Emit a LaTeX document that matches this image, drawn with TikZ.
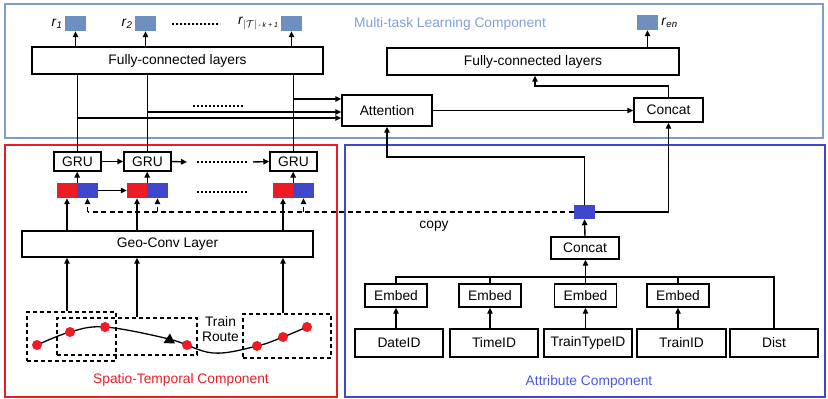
\documentclass[tikz,border=0pt]{standalone}
\usepackage{fontspec}
\setmainfont{Liberation Sans}
\usetikzlibrary{arrows.meta,calc}
\definecolor{stred}{HTML}{ED1C24}
\definecolor{atblue}{HTML}{3F48CC}
\definecolor{attext}{HTML}{4A58E0}
\definecolor{mtframe}{HTML}{7F9DC9}
\definecolor{mtfill}{HTML}{6E8FC0}
\definecolor{mttext}{HTML}{7FA0D8}
\begin{document}
\begin{tikzpicture}[x=1pt,y=-1pt,
  font=\fontsize{13.8}{16}\selectfont,
  box/.style={draw, line width=1.4pt, inner sep=0pt, fill=white},
  outsq/.style={fill=mtfill, inner sep=0pt, minimum width=21pt, minimum height=15pt},
  redv/.style={fill=stred, inner sep=0pt, minimum width=20pt, minimum height=15pt},
  bluev/.style={fill=atblue, inner sep=0pt, minimum width=21pt, minimum height=15pt},
  routebox/.style={draw, line width=1.1pt, dash pattern=on 4pt off 3pt, inner sep=0pt},
  arr/.style={-{Triangle[length=6pt,width=5.5pt]}, line width=1.4pt},
  ln/.style={line width=1.4pt},
  dashln/.style={line width=1.3pt, dash pattern=on 5pt off 3.5pt},
  dots/.style={line width=1.1pt, dash pattern=on 2pt off 2pt},
  stop/.style={circle, fill=stred, inner sep=0pt, minimum size=10pt}]
\useasboundingbox (0,0) rectangle (828,399);

% component frames
\draw[mtframe, line width=2.2pt] (5,4) rectangle (823,138);
\draw[stred, line width=2.2pt] (5,145) rectangle (337,397);
\draw[atblue, line width=2.2pt] (345,145) rectangle (825,397);
\node[text=mttext] (mtlabel) at (450,24) {Multi-task Learning Component};
\node[text=stred] (stlabel) at (181,380) {Spatio-Temporal Component};
\node[text=attext] (atlabel) at (589,382) {Attribute Component};

% multi-task outputs
\node[box, minimum width=291pt, minimum height=27pt] (fc1) at (177.5,60.5) {Fully-connected layers};
\node[box, minimum width=292pt, minimum height=27pt] (fc2) at (533,61.5) {Fully-connected layers};
\node[box, minimum width=90pt, minimum height=31pt] (att) at (387,110.5) {Attention};
\node[box, minimum width=69pt, minimum height=24pt] (cat1) at (668.5,110) {Concat};
\node[outsq] (r1) at (75.5,23.5) {};
\node[outsq] (r2) at (145.5,23.5) {};
\node[outsq] (r3) at (291.5,23.5) {};
\node[outsq] (ren) at (647.5,22.5) {};
\node[anchor=east, inner sep=2pt] (r1lab) at (r1.west) {\textit{r}\textsubscript{\textit{1}}};
\node[anchor=east, inner sep=2pt] (r2lab) at (r2.west) {\textit{r}\textsubscript{\textit{2}}};
\node[anchor=east, inner sep=2pt] (r3lab) at (r3.west) {\textit{r}\textsubscript{$|\mathcal{T}|$\,\fontsize{7}{7}\selectfont\textit{- k + 1}}};
\node[anchor=west, inner sep=3pt] (renlab) at (ren.east) {\textit{r}\textsubscript{\textit{en}}};
\draw[dots] (172,24) -- (220,24);

% spatio-temporal part
\node[box, minimum width=47pt, minimum height=19pt] (g1) at (77.5,161.5) {GRU};
\node[box, minimum width=47pt, minimum height=19pt] (g2) at (147.5,161.5) {GRU};
\node[box, minimum width=47pt, minimum height=19pt] (g3) at (293.5,161.5) {GRU};
\node[redv] (v1r) at (67,190.5) {};
\node[bluev] (v1b) at (87.5,190.5) {};
\node[redv] (v2r) at (137,190.5) {};
\node[bluev] (v2b) at (157.5,190.5) {};
\node[redv] (v3r) at (283,190.5) {};
\node[bluev] (v3b) at (303.5,190.5) {};
\node[box, minimum width=291pt, minimum height=26pt] (geo) at (167.5,244) {Geo-Conv Layer};

% train route
\node[routebox, minimum width=89pt, minimum height=49pt] (ra) at (71.5,336.5) {};
\node[routebox, minimum width=140pt, minimum height=37pt] (rb) at (127,336.5) {};
\node[routebox, minimum width=88pt, minimum height=44pt] (rc) at (287,336) {};
\draw[line width=1.3pt] plot[smooth, tension=0.6] coordinates
  {(37,345) (70,332) (105,327) (169,339) (213,353) (257,346) (283,337) (307,327)};
\fill (163.5,343) -- (175,343.5) -- (170,333.5) -- cycle;
\node[stop] (s1) at (37,345) {};
\node[stop] (s2) at (70,332) {};
\node[stop] (s3) at (105,327) {};
\node[stop] (s4) at (187,345) {};
\node[stop] (s5) at (257,346) {};
\node[stop] (s6) at (283,337) {};
\node[stop] (s7) at (307,327) {};
\node[align=center, inner sep=0pt, font=\fontsize{13.8}{15.5}\selectfont] (route) at (220.5,329) {Train\\Route};

% attribute part
\node[outsq, fill=atblue, minimum width=21pt, minimum height=14pt] (cp) at (584.5,212) {};
\node[inner sep=0pt] (copy) at (434,226) {copy};
\node[box, minimum width=68pt, minimum height=22pt] (cat2) at (585,248) {Concat};
\node[box, minimum width=62pt, minimum height=23pt] (e1) at (396,295.5) {Embed};
\node[box, minimum width=62pt, minimum height=23pt] (e2) at (490,295.5) {Embed};
\node[box, minimum width=62pt, minimum height=23pt] (e3) at (585.5,295.5) {Embed};
\node[box, minimum width=62pt, minimum height=23pt] (e4) at (678,295.5) {Embed};
\node[box, minimum width=88pt, minimum height=28pt] (date) at (399,343) {DateID};
\node[box, minimum width=88pt, minimum height=28pt] (time) at (494,343) {TimeID};
\node[box, minimum width=88pt, minimum height=28pt] (ttype) at (588,343) {TrainTypeID};
\node[box, minimum width=89pt, minimum height=28pt] (train) at (681.5,343) {TrainID};
\node[box, minimum width=88pt, minimum height=28pt] (dist) at (774,343) {Dist};

% helper levels
\coordinate (y99) at (0,99);
\coordinate (y112) at (0,112);
\coordinate (y118) at (0,118);
\coordinate (y157) at (0,157);
\coordinate (y86) at (0,86);
\coordinate (bus) at (0,277);
\coordinate (xfc2) at (535,0);
\coordinate (gstop) at (187,162);
\coordinate (gstart) at (253,162);

% multi-task connectors
\draw[arr] (r1.south |- fc1.north) -- (r1.south);
\draw[arr] (r2.south |- fc1.north) -- (r2.south);
\draw[arr] (r3.south |- fc1.north) -- (r3.south);
\draw[arr] (ren.south |- fc2.north) -- (ren.south);
\draw[ln] (g1.north) -- (g1.north |- fc1.south);
\draw[ln] (g2.north) -- (g2.north |- fc1.south);
\draw[ln] (g3.north) -- (g3.north |- fc1.south);
\draw[arr] (g3.north |- y99) -- (att.west |- y99);
\draw[arr] (g2.north |- y112) -- (att.west |- y112);
\draw[arr] (g1.north |- y118) -- (att.west |- y118);
\draw[dots] (193,106) -- (243,106);
\draw[arr] (att.east) -- (att.east -| cat1.west);
\draw[arr] (cat1.north) -- (cat1.north |- y86) -- (xfc2 |- y86) -- (xfc2 |- fc2.south);

% spatio-temporal connectors
\draw[arr] (g1.east) -- (g2.west);
\draw[arr] (g2.east) -- (gstop);
\draw[dots] (197,162) -- (247,162);
\draw[arr] (gstart) -- (g3.west);
\draw[arr] (v1b.east) -- (v2r.west);
\draw[dots] (197,192) -- (247,192);
\draw[arr] (v1r.north east) -- (v1r.north east |- g1.south);
\draw[arr] (v2r.north east) -- (v2r.north east |- g2.south);
\draw[arr] (v3r.north east) -- (v3r.north east |- g3.south);
\draw[arr] (v1r.south |- geo.north) -- (v1r.south);
\draw[arr] (v2r.south |- geo.north) -- (v2r.south);
\draw[arr] (v3r.south |- geo.north) -- (v3r.south);
\draw[arr] (v1r.south |- ra.north) -- (v1r.south |- geo.south);
\draw[arr] (v2r.south |- rb.north) -- (v2r.south |- geo.south);
\draw[arr] (v3r.south |- rc.north) -- (v3r.south |- geo.south);

% copied attribute vector
\draw[dashln] (cp.west) -- (cp.west -| v1b.south);
\draw[dashln, -{Triangle[length=6pt,width=5.5pt]}] (cp.west -| v1b.south) -- (v1b.south);
\draw[dashln, -{Triangle[length=6pt,width=5.5pt]}] (cp.west -| v2b.south) -- (v2b.south);
\draw[dashln, -{Triangle[length=6pt,width=5.5pt]}] (cp.west -| v3b.south) -- (v3b.south);
\draw[arr] (cp.north) -- (cp.north |- y157) -- (att.south |- y157) -- (att.south);
\draw[arr] (cp.east) -| (cat1.south);

% attribute connectors
\draw[arr] (cat2.north) -- (cp.south);
\draw[ln] (e1.north) -- (e1.north |- bus) -- (dist.north |- bus) -- (dist.north);
\draw[ln] (e2.north) -- (e2.north |- bus);
\draw[ln] (e4.north) -- (e4.north |- bus);
\draw[arr] (e3.north) -- (e3.north |- cat2.south);
\draw[arr] (e1.south |- date.north) -- (e1.south);
\draw[arr] (e2.south |- time.north) -- (e2.south);
\draw[arr] (e3.south |- ttype.north) -- (e3.south);
\draw[arr] (e4.south |- train.north) -- (e4.south);
\end{tikzpicture}
\end{document}
